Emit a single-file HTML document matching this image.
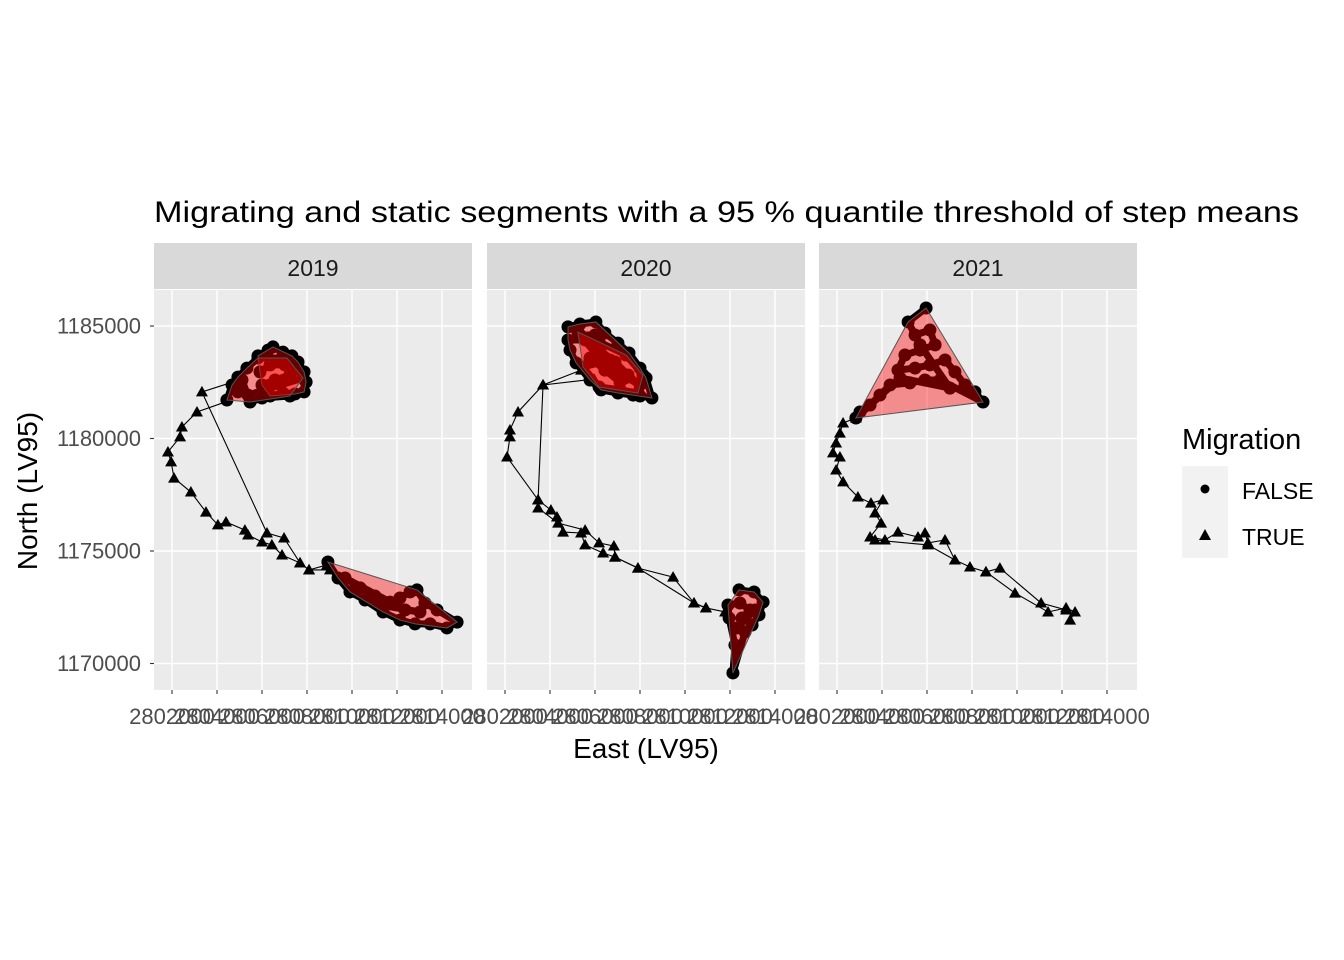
<!DOCTYPE html>
<html><head><meta charset="utf-8">
<style>
html,body{margin:0;padding:0;background:#fff;}
svg{display:block;font-family:"Liberation Sans",Arial,sans-serif;}
</style></head>
<body>
<svg id="chart" width="1344" height="960" viewBox="0 0 1344 960" xmlns="http://www.w3.org/2000/svg">
<rect width="1344" height="960" fill="#fff"/>
<text x="154" y="222" font-size="30" textLength="1145" lengthAdjust="spacingAndGlyphs" fill="#000">Migrating and static segments with a 95 % quantile threshold of step means</text>
<text x="646" y="758" font-size="28" text-anchor="middle" fill="#000">East (LV95)</text>
<text transform="translate(37,491) rotate(-90)" font-size="28" text-anchor="middle" fill="#000">North (LV95)</text>
<g>
<text x="1182" y="449" font-size="29" fill="#000">Migration</text>
<rect x="1182" y="466" width="46" height="46" fill="#f2f2f2"/>
<rect x="1182" y="512" width="46" height="46" fill="#f2f2f2"/>
<circle cx="1205" cy="489" r="4.5" fill="#000"/>
<polygon points="1205,529 1211,540 1199,540" fill="#000"/>
<text x="1242" y="499" font-size="23" fill="#000">FALSE</text>
<text x="1242" y="545" font-size="23" fill="#000">TRUE</text>
</g>
</svg>
<script>
// ---- data (km, LV95) ----
const years = ["2019","2020","2021"];
const xTicks = [2802000,2804000,2806000,2808000,2810000,2812000,2814000];
const yTicks = [1170000,1175000,1180000,1185000];
const yTickLabels = ["1170000","1175000","1180000","1185000"];

const tracks2019 = [
 [[2804.58,1182.47],[2803.33,1182.07],[2806.22,1175.8],[2806.98,1175.58],[2807.69,1174.47],[2808.09,1174.16],[2808.89,1174.38]],
 [[2804.36,1181.62],[2803.11,1181.18],[2802.44,1180.51],[2802.36,1180.07],[2801.82,1179.4],[2801.96,1178.96],[2802.09,1178.24],[2802.84,1177.62],[2803.51,1176.73],[2804.04,1176.16],[2804.4,1176.29],[2805.24,1175.93],[2805.38,1175.71],[2806.0,1175.4],[2806.44,1175.27],[2806.89,1174.82],[2807.69,1174.47],[2808.09,1174.16],[2809.02,1174.16]]
];
const tracks2020 = [
 [[2805.38,1183.04],[2803.69,1182.38],[2802.58,1181.18],[2802.22,1180.38],[2802.22,1180.07],[2802.09,1179.18],[2803.47,1177.27],[2804.04,1176.82],[2804.31,1176.51],[2804.58,1175.84],[2805.38,1175.8],[2805.56,1175.27],[2806.36,1174.91],[2806.89,1174.73],[2807.91,1174.24],[2810.4,1172.69],[2810.93,1172.47],[2811.78,1172.29]],
 [[2805.96,1182.64],[2803.69,1182.38],[2803.47,1177.27],[2803.47,1176.91],[2804.36,1176.24],[2805.56,1175.93],[2806.18,1175.36],[2806.84,1175.22],[2806.89,1174.73],[2807.91,1174.24],[2809.47,1173.84],[2810.4,1172.69],[2810.93,1172.47]]
];
const tracks2021 = [
 [[2802.84,1180.91],[2802.27,1180.69],[2802.13,1180.24],[2801.96,1179.8],[2801.82,1179.36],[2802.13,1179.18],[2801.96,1178.6],[2802.27,1178.07],[2802.93,1177.4],[2803.51,1177.13],[2804.04,1177.27],[2803.69,1176.69],[2803.96,1176.24],[2803.47,1175.62],[2804.13,1175.49],[2804.71,1175.84],[2805.6,1175.62],[2805.91,1175.8],[2806.04,1175.36],[2806.8,1175.49],[2807.24,1174.6],[2807.91,1174.29],[2808.62,1174.07],[2809.91,1173.13],[2811.38,1172.29],[2812.18,1172.47],[2812.58,1172.29],[2812.36,1171.93]],
 [[2808.62,1174.07],[2809.24,1174.24],[2811.07,1172.69],[2812.18,1172.38]],
 [[2803.69,1175.49],[2806.04,1175.27],[2807.24,1174.6]]
];

const static2019 = [
 [[2805.82,1183.67],[2806.27,1183.93],[2806.49,1184.07],[2806.93,1183.84],[2807.33,1183.67],[2807.6,1183.4],[2807.87,1182.96],[2807.96,1182.51],[2807.87,1182.07],[2807.47,1181.98],[2806.93,1182.02],[2806.36,1181.89],[2806.0,1182.38],[2806.58,1182.6],[2807.24,1182.82],[2807.02,1183.27],[2806.36,1183.27],[2805.91,1182.96]],
 [[2804.44,1181.71],[2804.67,1182.38],[2804.93,1182.73],[2805.33,1183.13],[2805.82,1183.58],[2807.11,1183.58],[2807.82,1182.69],[2805.38,1181.93],[2804.93,1182.07],[2805.11,1182.6],[2805.47,1181.62],[2806.0,1181.8],[2807.24,1181.89]],
 [[2808.93,1174.51],[2809.38,1173.8],[2809.91,1173.18],[2810.58,1172.82],[2811.38,1172.29],[2812.13,1171.93],[2812.8,1171.76],[2813.47,1171.76],[2814.22,1171.58],[2814.67,1171.84],[2813.78,1172.38],[2813.24,1172.69],[2812.89,1173.27],[2812.58,1173.18],[2812.13,1172.91],[2811.69,1172.73],[2811.02,1173.0],[2810.36,1173.36],[2809.69,1173.8],[2812.36,1172.38],[2813.02,1172.29],[2811.24,1172.6]]
];
const static2020 = [
 [[2804.8,1184.96],[2805.33,1185.09],[2806.04,1185.18],[2806.44,1184.69],[2807.02,1184.24],[2807.51,1183.8],[2808.0,1183.13],[2808.27,1182.69],[2808.53,1181.8],[2808.0,1181.89],[2807.69,1181.93],[2807.02,1182.02],[2806.27,1182.16],[2805.78,1182.6],[2805.16,1183.36],[2804.89,1183.93],[2804.8,1184.38],[2805.56,1184.38],[2806.22,1183.93],[2806.89,1183.4],[2807.47,1182.82],[2808.0,1182.38],[2805.78,1183.58],[2806.44,1183.04],[2807.11,1182.51],[2805.33,1184.6],[2806.0,1184.6]],
 [[2805.24,1184.73],[2806.18,1184.29],[2807.38,1183.71],[2808.13,1182.82],[2807.91,1182.02],[2807.11,1182.16],[2806.18,1182.29],[2805.47,1183.18],[2806.67,1183.49],[2807.33,1182.69]],
 [[2812.4,1173.27],[2813.07,1173.18],[2813.47,1172.73],[2813.29,1172.16],[2812.98,1171.71],[2812.67,1171.4],[2812.13,1169.58],[2812.22,1170.82],[2811.96,1172.02],[2811.91,1172.6],[2812.44,1172.69],[2812.89,1172.38],[2812.53,1172.02],[2813.11,1172.38],[2812.31,1171.58]]
];
const static2021 = [
 [[2805.96,1185.8],[2805.16,1185.18],[2805.47,1184.6],[2806.13,1184.82],[2806.36,1184.16],[2805.69,1183.93],[2805.02,1183.71],[2804.71,1183.04],[2805.47,1183.13],[2806.13,1183.27],[2806.8,1183.49],[2807.24,1182.96],[2807.69,1182.38],[2808.13,1182.07],[2808.49,1181.62],[2806.58,1182.6],[2805.91,1182.6],[2805.24,1182.47],[2804.36,1182.38],[2803.91,1181.93],[2803.47,1181.49],[2803.02,1181.18],[2802.84,1180.91],[2804.8,1182.69],[2807.02,1182.24],[2805.69,1184.16]]
];

const panelTracks = [tracks2019, tracks2020, tracks2021];
const panelStatic = [static2019, static2020, static2021];

const NS = "http://www.w3.org/2000/svg";
const svg = document.getElementById("chart");
const panelLeft = [154, 487, 819];
const panelW = 318, panelTop = 290, panelBottom = 690, stripTop = 243;
const pxPerKm = 22.5;
const xOrigin = 18;
function xScale(p, eKm){ return panelLeft[p] + xOrigin + (eKm - 2802) * pxPerKm; }
function yScale(nKm){ return 326 + (1185 - nKm) * pxPerKm; }
function mk(tag, attrs, parent){
  const el = document.createElementNS(NS, tag);
  for (const k in attrs) el.setAttribute(k, attrs[k]);
  (parent || svg).appendChild(el);
  return el;
}
function hull(pts){
  const p = pts.slice().sort((a,b)=>a[0]-b[0]||a[1]-b[1]);
  const cr=(o,a,b)=>(a[0]-o[0])*(b[1]-o[1])-(a[1]-o[1])*(b[0]-o[0]);
  const lo=[],up=[];
  for(const q of p){while(lo.length>=2&&cr(lo[lo.length-2],lo[lo.length-1],q)<=0)lo.pop();lo.push(q);}
  for(const q of p.slice().reverse()){while(up.length>=2&&cr(up[up.length-2],up[up.length-1],q)<=0)up.pop();up.push(q);}
  return lo.slice(0,-1).concat(up.slice(0,-1));
}

const defs = mk("defs", {});
years.forEach((yr, p) => {
  const L = panelLeft[p];
  const cp = mk("clipPath", {id:"clip"+p}, defs);
  mk("rect", {x:L, y:panelTop, width:panelW, height:panelBottom-panelTop}, cp);

  const strip = mk("rect", {x:L, y:stripTop, width:panelW, height:panelTop-stripTop-1, fill:"#d9d9d9"});
  
  
  const st = mk("text", {x:L+panelW/2, y:276, "font-size":"23", "text-anchor":"middle", fill:"#1a1a1a"});
  st.textContent = yr;
  
  

  const bg = mk("rect", {x:L, y:panelTop, width:panelW, height:panelBottom-panelTop, fill:"#ebebeb"});
  
  

  const g = mk("g", {"clip-path":"url(#clip"+p+")"});
  
  

  xTicks.forEach((t) => {
    const x = xScale(p, t/1000);
    const gl = mk("line", {x1:x, x2:x, y1:panelTop, y2:panelBottom, stroke:"#fff", "stroke-width":"1.4"}, g);
    
    
    const tk = mk("line", {x1:x, x2:x, y1:panelBottom, y2:panelBottom+4, stroke:"#333", "stroke-width":"1.1"});
    
    
    const tl = mk("text", {x:x, y:724, "font-size":"22", "text-anchor":"middle", fill:"#4d4d4d"});
    tl.textContent = String(t);
    
    
  });
  yTicks.forEach((t) => {
    const y = yScale(t/1000);
    const gl = mk("line", {x1:L, x2:L+panelW, y1:y, y2:y, stroke:"#fff", "stroke-width":"1.4"}, g);
    
    
  });

  panelTracks[p].forEach((tr) => {
    const pl = mk("polyline", {points: tr.map(q=>xScale(p,q[0])+","+yScale(q[1])).join(" "), fill:"none", stroke:"#000", "stroke-width":"1.1"}, g);
    
    
  });
  panelStatic[p].forEach((seg) => {
    const pl = mk("polyline", {points: seg.map(q=>xScale(p,q[0])+","+yScale(q[1])).join(" "), fill:"none", stroke:"#000", "stroke-width":"7", "stroke-linejoin":"round"}, g);
    
    
    seg.forEach((q) => {
      const c = mk("circle", {cx:xScale(p,q[0]), cy:yScale(q[1]), r:"6.5", fill:"#000"}, g);
      
      
    });
  });
  panelTracks[p].forEach((tr) => {
    tr.forEach((q, i) => {
      if (p === 0 && i === 0) return;
      const x = xScale(p,q[0]), y = yScale(q[1]);
      const t = mk("polygon", {points:`${x},${y-6} ${x+6},${y+4.5} ${x-6},${y+4.5}`, fill:"#000"}, g);
      
      
    });
  });
  panelStatic[p].forEach((seg) => {
    const h = hull(seg);
    const hp = mk("polygon", {points: h.map(q=>xScale(p,q[0])+","+yScale(q[1])).join(" "), fill:"rgba(255,0,0,0.4)", stroke:"#555", "stroke-width":"1"}, g);
    
    
  });
});

yTicks.forEach((t, i) => {
  const y = yScale(t/1000);
  const tk = mk("line", {x1:150, x2:154, y1:y, y2:y, stroke:"#333", "stroke-width":"1.1"});
  
  
  const tl = mk("text", {x:141, y:y+7.5, "font-size":"22", "text-anchor":"end", fill:"#4d4d4d"});
  tl.textContent = yTickLabels[i];
  
  
});
</script>
</body></html>
